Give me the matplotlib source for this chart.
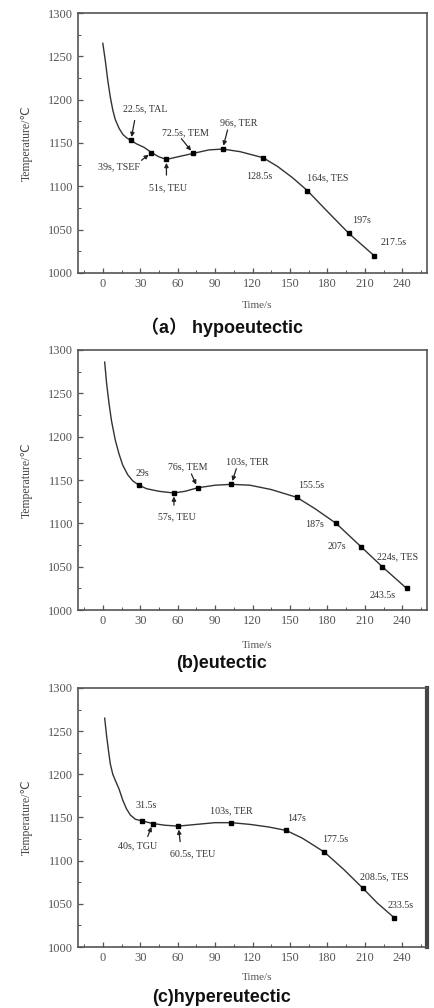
import matplotlib
matplotlib.use("Agg")
import matplotlib.pyplot as plt

# ---------------- data ----------------
# (a) hypoeutectic
a_curve_t = [0, 2, 4, 6, 8, 10, 13, 16, 19, 22.5, 27, 33, 39, 45, 51, 60, 72.5, 85, 96, 110, 128.5, 140, 152, 164, 180, 197, 217.5]
a_curve_T = [1265, 1245, 1222, 1203, 1188, 1177, 1167, 1160, 1156, 1153, 1149, 1145, 1139, 1134, 1131, 1134, 1138, 1142, 1143, 1140, 1133, 1123, 1110, 1095, 1071, 1046, 1020]
a_pts_t = [22.5, 39, 51, 72.5, 96, 128.5, 164, 197, 217.5]
a_pts_T = [1153, 1139, 1131, 1138, 1143, 1133, 1095, 1046, 1020]
a_labels = ["22.5s, TAL", "39s, TSEF", "51s, TEU", "72.5s, TEM", "96s, TER",
            "128.5s", "164s, TES", "197s", "217.5s"]

# (b) eutectic
b_curve_t = [1.5, 3, 5, 7, 10, 13, 16, 20, 24, 29, 35, 45, 57, 66, 76, 90, 103, 118, 135, 155.5, 170, 187, 207, 224, 243.5]
b_curve_T = [1286, 1262, 1238, 1218, 1196, 1180, 1167, 1156, 1149, 1144, 1140, 1137, 1135, 1137, 1141, 1144, 1145, 1144, 1139, 1130, 1117, 1100, 1073, 1050, 1025]
b_pts_t = [29, 57, 76, 103, 155.5, 187, 207, 224, 243.5]
b_pts_T = [1144, 1135, 1141, 1145, 1130, 1100, 1073, 1050, 1025]
b_labels = ["29s", "57s, TEU", "76s, TEM", "103s, TER", "155.5s",
            "187s", "207s", "224s, TES", "243.5s"]

# (c) hypereutectic
c_curve_t = [1.5, 3, 4.5, 6, 8, 10, 13, 16, 19, 22, 26, 31.5, 40, 50, 60.5, 75, 90, 103, 118, 133, 147, 160, 177.5, 193, 208.5, 220, 233.5]
c_curve_T = [1265, 1245, 1228, 1212, 1200, 1193, 1183, 1170, 1160, 1153, 1148, 1146, 1143, 1141, 1140, 1142, 1144, 1144, 1142, 1139, 1135, 1126, 1110, 1090, 1068, 1051, 1034]
c_pts_t = [31.5, 40, 60.5, 103, 147, 177.5, 208.5, 233.5]
c_pts_T = [1146, 1143, 1140, 1144, 1135, 1110, 1068, 1034]
c_labels = ["31.5s", "40s, TGU", "60.5s, TEU", "103s, TER", "147s",
            "177.5s", "208.5s, TES", "233.5s"]

titles = ["（a） hypoeutectic", "(b)eutectic", "(c)hypereutectic"]
xticks = [0, 30, 60, 90, 120, 150, 180, 210, 240]
yticks = [1000, 1050, 1100, 1150, 1200, 1250, 1300]

# ---------------- label placement (layout, not data) ----------------
# text position per label, and arrow tail (None = no arrow)
a_place = [(34, 1189), (13, 1122), (52, 1098), (66, 1162), (109, 1173),
           (125, 1111), (180, 1110), (207, 1061), (233, 1035)]
a_tail = [(25.5, 1176), (31, 1130), (51, 1113), (63, 1155), (100, 1165),
          None, None, None, None]
b_place = [(32, 1157), (59, 1108), (68, 1165), (116, 1171), (167, 1144),
           (170, 1099), (188, 1073), (236, 1062), (224, 1017)]
b_tail = [None, (57, 1121), (71, 1157), (107, 1163), None, None, None, None, None]
c_place = [(35, 1164), (28, 1117), (72, 1108), (103, 1158), (155, 1149),
           (186, 1124), (226, 1081), (239, 1048)]
c_tail = [None, (36, 1128), (62, 1122), None, None, None, None, None]

panels = [
    (a_curve_t, a_curve_T, a_pts_t, a_pts_T, a_labels, a_place, a_tail),
    (b_curve_t, b_curve_T, b_pts_t, b_pts_T, b_labels, b_place, b_tail),
    (c_curve_t, c_curve_T, c_pts_t, c_pts_T, c_labels, c_place, c_tail),
]

fig = plt.figure(figsize=(4.35, 10.08), dpi=100)
serif = ["Liberation Serif", "DejaVu Serif"]
axes_rect = [
    [0.179, 0.7292, 0.803, 0.2579],
    [0.179, 0.3948, 0.803, 0.2580],
    [0.179, 0.0605, 0.803, 0.2570],
]
title_y = [1 - 327 / 1008, 1 - 663 / 1008, 1 - 997 / 1008]
xlabel_y = [1 - 305 / 1008, 1 - 645 / 1008, 1 - 977 / 1008]

gray = "#555555"
for i, (ct, cT, pt, pT, labs, place, tails) in enumerate(panels):
    ax = fig.add_axes(axes_rect[i])
    ax.plot(ct, cT, color="#333333", lw=1.0)
    ax.plot(pt, pT, ls="none", marker="s", ms=3.4, color="black")
    for (x, y), lab, (tx, ty), tail in zip(zip(pt, pT), labs, place, tails):
        ax.text(tx, ty, lab, ha="center", va="center", fontsize=7.2,
                family=serif, color="#333333")
        if tail is not None:
            ax.annotate("", xy=(x, y), xytext=tail,
                        arrowprops=dict(arrowstyle="-|>", color="#222222", lw=0.9,
                                        mutation_scale=6, shrinkA=0, shrinkB=2.5))
    ax.set_xlim(-20, 260)
    ax.set_ylim(1000, 1300)
    ax.set_xticks(xticks)
    ax.set_yticks(yticks)
    ax.set_xticks([t + 15 for t in [-30] + xticks], minor=True)
    ax.set_yticks([1025, 1075, 1125, 1175, 1225, 1275], minor=True)
    ax.tick_params(which="both", direction="in", colors=gray, labelsize=9,
                   labelcolor="#555555")
    ax.tick_params(which="major", length=3.5, width=0.9)
    ax.tick_params(which="minor", length=2, width=0.7)
    for lab in ax.get_xticklabels() + ax.get_yticklabels():
        lab.set_family(serif)
    for s in ax.spines.values():
        s.set_color(gray)
        s.set_linewidth(1.2)
    if i == 2:
        ax.spines["right"].set_linewidth(3.0)
        ax.spines["right"].set_color("#444444")
    ax.set_ylabel("Temperature/℃", family=["Liberation Serif", "DejaVu Sans"],
                  fontsize=8.5, color="#444444", labelpad=11)
    fig.text(0.59, xlabel_y[i], "Time/s", ha="center", va="center",
             family=serif, fontsize=8, color="#555555")
    fig.text(0.51, title_y[i], titles[i], ha="center", va="center",
             family=["Liberation Sans", "Noto Sans CJK SC"], fontsize=13,
             fontweight="bold", color="#111111")

fig.savefig("out.png", dpi=100, facecolor="white")
